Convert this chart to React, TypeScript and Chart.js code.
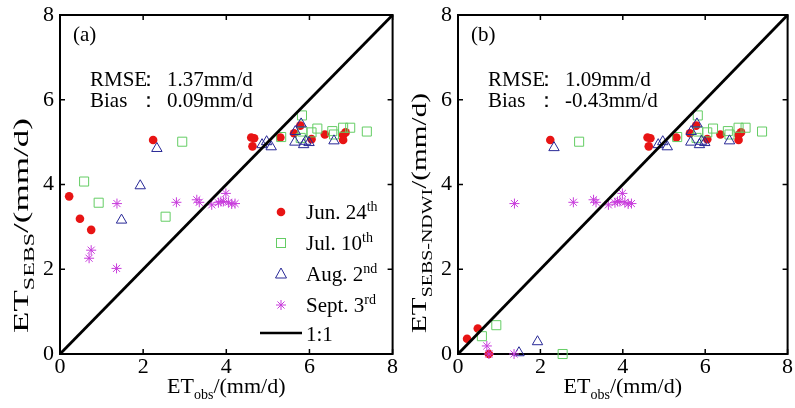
import React, { useEffect, useRef } from 'react';
import { Chart, registerables } from 'chart.js';

Chart.register(...registerables);

const FONT = "'Liberation Serif', 'Times New Roman', Times, serif";

// ---- data (ET observed vs. estimated, mm/d) ----
const junObs = [0.22, 0.48, 0.75, 2.24, 4.6, 4.67, 4.63, 5.3, 5.63, 5.78, 6.05, 6.37, 6.81, 6.87, 6.81];
const junSEBS = [3.72, 3.19, 2.93, 5.05, 5.11, 5.09, 4.9, 5.11, 5.21, 5.39, 5.07, 5.18, 5.17, 5.23, 5.05];
const junNDWI = [0.36, 0.6, 0.0, 5.05, 5.11, 5.09, 4.9, 5.11, 5.21, 5.39, 5.07, 5.18, 5.17, 5.23, 5.05];

const julObs = [0.58, 0.93, 2.54, 2.94, 5.32, 5.79, 5.82, 5.83, 6.05, 6.19, 6.55, 6.59, 6.81, 6.98, 7.38];
const julSEBS = [4.07, 3.57, 3.24, 5.01, 5.12, 5.1, 5.63, 5.25, 5.23, 5.32, 5.26, 5.18, 5.34, 5.34, 5.25];
const julNDWI = [0.42, 0.68, 0.0, 5.01, 5.12, 5.1, 5.63, 5.25, 5.23, 5.32, 5.26, 5.18, 5.34, 5.34, 5.25];

const augObs = [1.48, 1.93, 2.33, 4.86, 4.97, 5.08, 5.65, 5.66, 5.8, 5.86, 5.91, 5.99, 6.59];
const augSEBS = [3.16, 3.97, 4.85, 4.94, 5.01, 4.89, 5.0, 5.25, 5.43, 4.94, 5.02, 4.99, 5.03];
const augNDWI = [0.03, 0.29, 4.87, 4.94, 5.01, 4.89, 5.0, 5.25, 5.43, 4.94, 5.02, 4.99, 5.03];

const sepObs = [0.7, 0.75, 1.36, 1.37, 2.8, 3.29, 3.35, 3.65, 3.81, 3.87, 3.93, 3.99, 4.05, 4.13, 4.21];
const sepSEBS = [2.26, 2.45, 2.02, 3.55, 3.58, 3.64, 3.58, 3.52, 3.57, 3.6, 3.6, 3.79, 3.58, 3.54, 3.55];
const sepNDWI = [0.19, 0.0, 0.0, 3.55, 3.58, 3.64, 3.58, 3.52, 3.57, 3.6, 3.6, 3.79, 3.58, 3.54, 3.55];

const oneToOne = [0, 8];
const tickValues = [0, 2, 4, 6, 8];
const seriesLabels = [
  { main: 'Jun. 24', sup: 'th' },
  { main: 'Jul. 10', sup: 'th' },
  { main: 'Aug. 2', sup: 'nd' },
  { main: 'Sept. 3', sup: 'rd' },
];
const lineLabel = '1:1';

const RED = 'rgb(232,20,20)';
const GREEN = 'rgb(100,205,100)';
const NAVY = 'rgb(40,40,150)';
const MAGENTA = 'rgb(200,60,220)';

type Part = { t: string; size: number; dy?: number };

function partsWidth(ctx: CanvasRenderingContext2D, parts: Part[]) {
  let w = 0;
  for (const p of parts) {
    ctx.font = `${p.size}px ${FONT}`;
    w += ctx.measureText(p.t).width;
  }
  return w;
}

function drawParts(ctx: CanvasRenderingContext2D, parts: Part[], x: number, y: number) {
  let cx = x;
  ctx.textAlign = 'left';
  ctx.textBaseline = 'alphabetic';
  for (const p of parts) {
    ctx.font = `${p.size}px ${FONT}`;
    ctx.fillText(p.t, cx, y + (p.dy || 0));
    cx += ctx.measureText(p.t).width;
  }
}

function drawMarker(ctx: CanvasRenderingContext2D, kind: string, x: number, y: number) {
  ctx.save();
  ctx.lineWidth = 1;
  if (kind === 'circle') {
    ctx.fillStyle = RED;
    ctx.beginPath();
    ctx.arc(x, y, 4.3, 0, Math.PI * 2);
    ctx.fill();
  } else if (kind === 'rect') {
    ctx.strokeStyle = GREEN;
    ctx.strokeRect(x - 4.5, y - 4.5, 9, 9);
  } else if (kind === 'triangle') {
    ctx.strokeStyle = NAVY;
    ctx.beginPath();
    ctx.moveTo(x, y - 6);
    ctx.lineTo(x + 5.5, y + 4);
    ctx.lineTo(x - 5.5, y + 4);
    ctx.closePath();
    ctx.stroke();
  } else if (kind === 'star') {
    ctx.strokeStyle = MAGENTA;
    const r = 5;
    const d = r * Math.SQRT1_2;
    ctx.beginPath();
    ctx.moveTo(x - r, y); ctx.lineTo(x + r, y);
    ctx.moveTo(x, y - r); ctx.lineTo(x, y + r);
    ctx.moveTo(x - d, y - d); ctx.lineTo(x + d, y + d);
    ctx.moveTo(x - d, y + d); ctx.lineTo(x + d, y - d);
    ctx.stroke();
  }
  ctx.restore();
}

type PanelCfg = {
  letter: string;
  ySub: string;
  yLen: number;
  rmse: string;
  bias: string;
  legend: boolean;
};

function makeDecor(cfg: PanelCfg) {
  return {
    id: 'decor',
    beforeDatasetsDraw(chart: any) {
      const { ctx, chartArea: a, scales } = chart;
      ctx.save();
      ctx.strokeStyle = '#000';
      ctx.lineWidth = 1.5;
      const tl = 5;
      ctx.beginPath();
      for (const v of tickValues) {
        const px = scales.x.getPixelForValue(v);
        const py = scales.y.getPixelForValue(v);
        ctx.moveTo(px, a.bottom); ctx.lineTo(px, a.bottom - tl);
        ctx.moveTo(px, a.top); ctx.lineTo(px, a.top + tl);
        ctx.moveTo(a.left, py); ctx.lineTo(a.left + tl, py);
        ctx.moveTo(a.right, py); ctx.lineTo(a.right - tl, py);
      }
      ctx.stroke();
      ctx.lineWidth = 2;
      ctx.strokeRect(a.left, a.top, a.right - a.left, a.bottom - a.top);
      ctx.restore();
    },
    afterDraw(chart: any) {
      const { ctx, chartArea: a } = chart;
      ctx.save();
      ctx.fillStyle = '#000';
      const cx = (a.left + a.right) / 2;
      // x title
      const xParts: Part[] = [
        { t: 'ET', size: 22 },
        { t: 'obs', size: 14, dy: 6 },
        { t: '/(mm/d)', size: 22 },
      ];
      const xw = partsWidth(ctx, xParts);
      drawParts(ctx, xParts, cx - xw / 2, 393);
      // y title (rotated; reference lettering is elongated along the text direction)
      const yParts: Part[] = [
        { t: 'ET', size: 22 },
        { t: cfg.ySub, size: 15, dy: 6 },
        { t: '/(mm/d)', size: 22 },
      ];
      const yw = partsWidth(ctx, yParts);
      ctx.save();
      ctx.translate(a.left - 32, a.bottom - 21);
      ctx.rotate(-Math.PI / 2);
      ctx.scale(cfg.yLen / yw, 1);
      drawParts(ctx, yParts, 0, 0);
      ctx.restore();
      // annotations
      drawParts(ctx, [{ t: cfg.letter, size: 21 }], a.left + 13, 41);
      drawParts(ctx, [{ t: 'RMSE', size: 21 }], a.left + 30, 86);
      drawParts(ctx, [{ t: '：', size: 21 }], a.left + 78, 86);
      drawParts(ctx, [{ t: cfg.rmse, size: 21 }], a.left + 107, 86);
      drawParts(ctx, [{ t: 'Bias', size: 21 }], a.left + 30, 107);
      drawParts(ctx, [{ t: '：', size: 21 }], a.left + 78, 107);
      drawParts(ctx, [{ t: cfg.bias, size: 21 }], a.left + 107, 107);
      // legend
      if (cfg.legend) {
        const mx = a.left + 221;
        const tx = a.left + 246;
        const kinds = ['circle', 'rect', 'triangle', 'star'];
        seriesLabels.forEach((s, i) => {
          const my = a.top + 197 + i * 31;
          drawMarker(ctx, kinds[i], mx, my);
          drawParts(ctx, [{ t: s.main, size: 21 }, { t: s.sup, size: 14, dy: -8 }], tx, my + 7);
        });
        const ly = a.top + 318;
        ctx.strokeStyle = '#000';
        ctx.lineWidth = 2.5;
        ctx.beginPath();
        ctx.moveTo(a.left + 200, ly);
        ctx.lineTo(a.left + 242, ly);
        ctx.stroke();
        drawParts(ctx, [{ t: lineLabel, size: 21 }], tx, ly + 8);
      }
      ctx.restore();
    },
  };
}

function pts(xs: number[], ys: number[]) {
  return xs.map((x, i) => ({ x, y: ys[i] }));
}

type PanelProps = {
  left: number;
  width: number;
  yWidth: number;
  rightPad: number;
  cfg: PanelCfg;
  jun: number[];
  jul: number[];
  aug: number[];
  sep: number[];
};

function Panel(props: PanelProps) {
  const ref = useRef<HTMLCanvasElement>(null);
  useEffect(() => {
    const canvas = ref.current;
    if (!canvas) return;
    const tickFont = { family: FONT, size: 22 };
    const chart = new Chart(canvas, {
      type: 'scatter',
      data: {
        datasets: [
          {
            label: lineLabel,
            data: oneToOne.map((v) => ({ x: v, y: v })),
            showLine: true,
            borderColor: '#000',
            borderWidth: 2.8,
            pointRadius: 0,
            clip: false,
          } as any,
          {
            label: 'Sept',
            data: pts(sepObs, props.sep),
            pointStyle: 'star',
            pointRadius: 5,
            borderColor: MAGENTA,
            backgroundColor: MAGENTA,
            borderWidth: 1,
            clip: false,
          },
          {
            label: 'Aug',
            data: pts(augObs, props.aug),
            pointStyle: 'triangle',
            pointRadius: 6,
            borderColor: NAVY,
            backgroundColor: 'rgba(0,0,0,0)',
            borderWidth: 1,
            clip: false,
          },
          {
            label: 'Jul',
            data: pts(julObs, props.jul),
            pointStyle: 'rect',
            pointRadius: 6.4,
            borderColor: GREEN,
            backgroundColor: 'rgba(0,0,0,0)',
            borderWidth: 1,
            clip: false,
          },
          {
            label: 'Jun',
            data: pts(junObs, props.jun),
            pointStyle: 'circle',
            pointRadius: 4.3,
            borderColor: RED,
            backgroundColor: RED,
            borderWidth: 0,
            clip: false,
          },
        ],
      },
      options: {
        responsive: false,
        animation: false,
        devicePixelRatio: 1,
        events: [],
        layout: { padding: { top: 15, right: props.rightPad, left: 0, bottom: 0 } },
        plugins: { legend: { display: false }, tooltip: { enabled: false } },
        scales: {
          x: {
            type: 'linear',
            min: 0,
            max: 8,
            ticks: { stepSize: 2, font: tickFont, color: '#000', padding: 0, maxRotation: 0 },
            grid: { display: false, drawTicks: false },
            border: { display: false },
            afterFit: (s: any) => {
              s.height = 54;
              s.paddingLeft = 0;
              s.paddingRight = 0;
            },
          },
          y: {
            type: 'linear',
            min: 0,
            max: 8,
            ticks: { stepSize: 2, font: tickFont, color: '#000', padding: 6 },
            grid: { display: false, drawTicks: false },
            border: { display: false },
            afterFit: (s: any) => {
              s.width = props.yWidth;
              s.paddingTop = 0;
              s.paddingBottom = 0;
            },
          },
        },
      } as any,
      plugins: [makeDecor(props.cfg)],
    });
    return () => chart.destroy();
  }, []);
  return (
    <canvas
      ref={ref}
      width={props.width}
      height={408}
      style={{ position: 'absolute', left: props.left, top: 0, width: props.width, height: 408 }}
    />
  );
}

export default function App() {
  return (
    <div style={{ position: 'absolute', left: 0, top: 0, width: 795, height: 408, background: '#fff' }}>
      <Panel
        left={0}
        width={400}
        yWidth={60}
        rightPad={4}
        cfg={{ letter: '(a)', ySub: 'SEBS', yLen: 215, rmse: '1.37mm/d', bias: '0.09mm/d', legend: true }}
        jun={junSEBS}
        jul={julSEBS}
        aug={augSEBS}
        sep={sepSEBS}
      />
      <Panel
        left={400}
        width={395}
        yWidth={58}
        rightPad={1}
        cfg={{ letter: '(b)', ySub: 'SEBS-NDWI', yLen: 240, rmse: '1.09mm/d', bias: '-0.43mm/d', legend: false }}
        jun={junNDWI}
        jul={julNDWI}
        aug={augNDWI}
        sep={sepNDWI}
      />
    </div>
  );
}
